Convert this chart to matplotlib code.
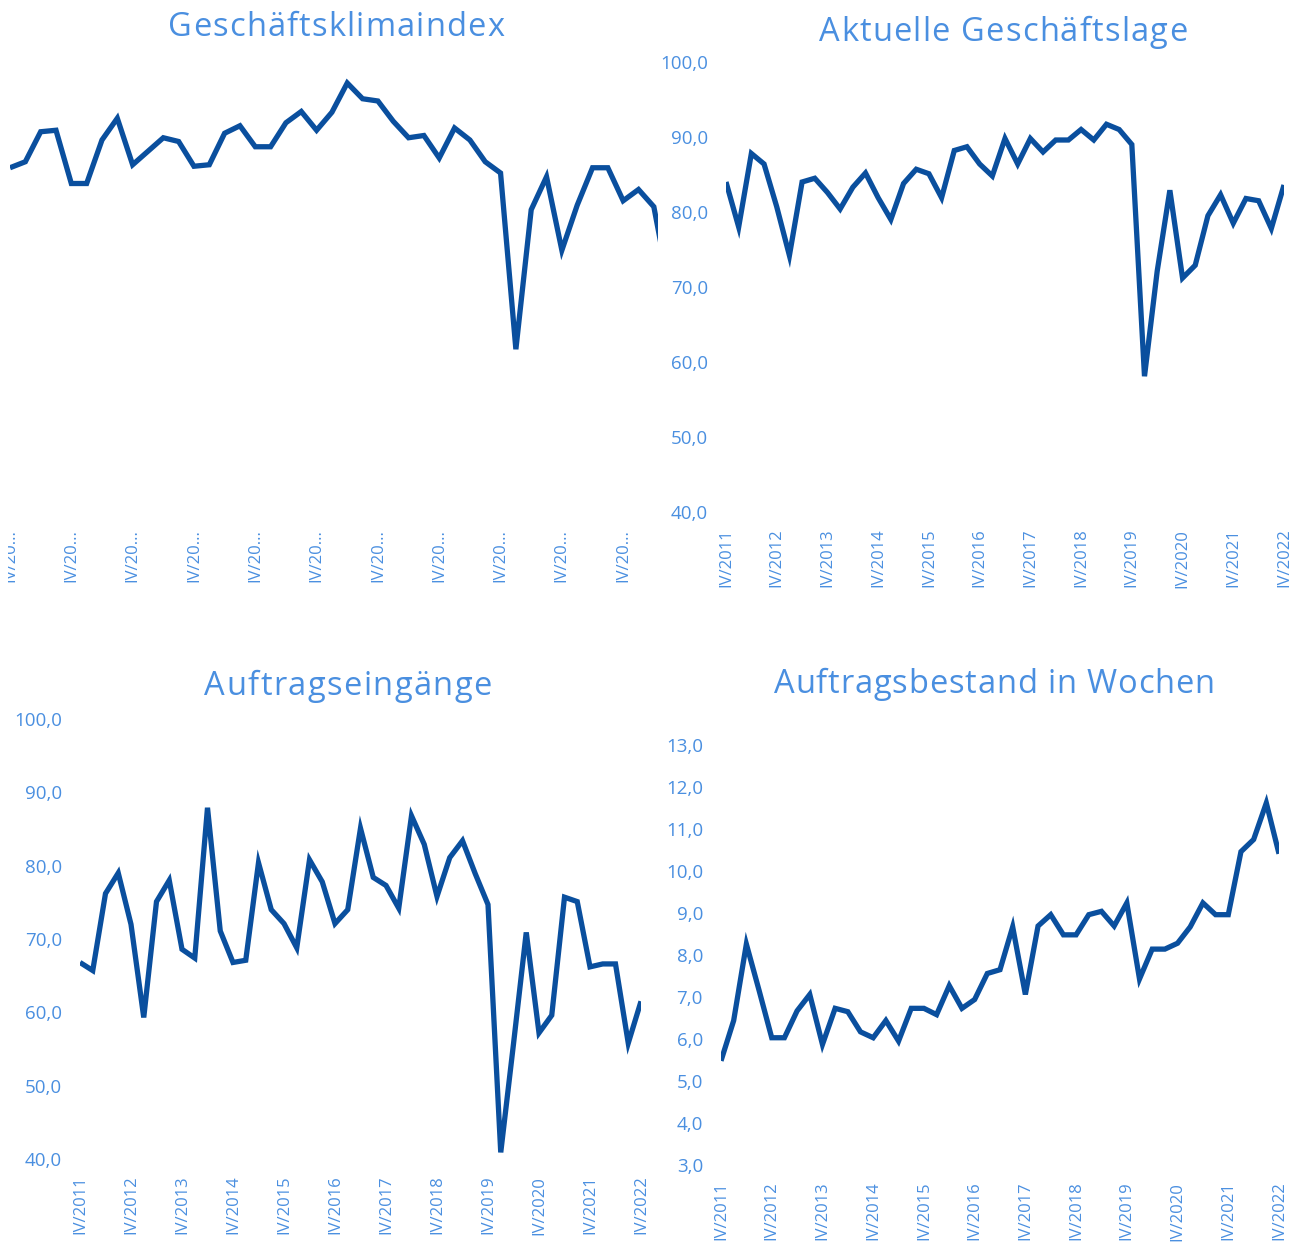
import matplotlib
matplotlib.use("Agg")
import matplotlib.pyplot as plt
from matplotlib.patches import Rectangle
from matplotlib.ticker import FuncFormatter
from matplotlib.font_manager import FontProperties

plt.rcParams['font.family'] = ['Open Sans', 'DejaVu Sans']

# quarterly values IV/2011 .. IV/2022
klima = [85.9, 86.7, 90.7, 90.9, 83.8, 83.8, 89.6, 92.5, 86.3, 88.1,
         89.9, 89.4, 86.1, 86.3, 90.5, 91.5, 88.7, 88.7, 91.9, 93.4,
         90.9, 93.3, 97.2, 95.1, 94.8, 92.1, 89.9, 90.2, 87.2, 91.2,
         89.6, 86.7, 85.2, 61.7, 80.3, 84.7, 74.9, 80.9, 85.9, 85.9,
         81.5, 83.0, 80.7, 70.0, 74.0]
lage = [84.0, 78.0, 87.8, 86.4, 80.7, 74.2, 84.0, 84.5, 82.6, 80.4,
        83.3, 85.2, 81.9, 79.0, 83.8, 85.7, 85.1, 81.9, 88.2, 88.7,
        86.4, 84.8, 89.8, 86.4, 89.8, 88.0, 89.6, 89.6, 91.0, 89.6,
        91.7, 91.0, 89.0, 58.1, 72.1, 82.9, 71.2, 72.9, 79.5, 82.3,
        78.5, 81.8, 81.5, 77.8, 83.6]
eingaenge = [66.8, 65.7, 76.2, 79.0, 72.0, 59.3, 75.1, 78.0, 68.6, 67.4,
             87.9, 71.1, 66.8, 67.1, 80.4, 74.0, 72.1, 68.8, 80.8, 77.8,
             72.1, 74.0, 85.1, 78.4, 77.3, 74.2, 86.8, 82.9, 75.8, 81.1,
             83.4, 78.9, 74.7, 40.9, 55.7, 70.9, 57.2, 59.6, 75.7, 75.1,
             66.2, 66.6, 66.6, 55.8, 61.5]
bestand = [5.48, 6.44, 8.26, 7.16, 6.03, 6.03, 6.67, 7.06, 5.87, 6.73,
           6.65, 6.17, 6.03, 6.44, 5.95, 6.73, 6.73, 6.58, 7.27, 6.73,
           6.94, 7.56, 7.65, 8.67, 7.06, 8.69, 8.96, 8.48, 8.48, 8.96,
           9.04, 8.69, 9.24, 7.43, 8.14, 8.14, 8.28, 8.67, 9.24, 8.96,
           8.96, 10.46, 10.75, 11.62, 10.41]

year_labels = ["IV/2011", "IV/2012", "IV/2013", "IV/2014", "IV/2015", "IV/2016",
               "IV/2017", "IV/2018", "IV/2019", "IV/2020", "IV/2021", "IV/2022"]
short_labels = ["IV/20..."] * 12

titles = ["Geschäftsklimaindex", "Aktuelle Geschäftslage",
          "Auftragseingänge", "Auftragsbestand in Wochen"]

W, H = 1297, 1242
LINE = '#0A4F9E'
TEXT = '#4A8FE0'

fig = plt.figure(figsize=(W / 100, H / 100), dpi=100)


def box(x0, x1, ytop, ybot):
    return [x0 / W, 1 - ybot / H, (x1 - x0) / W, (ybot - ytop) / H]


def panel(rect, values, ylim, ystep, labels, show_y=True, z=2):
    ax = fig.add_axes(rect)
    ax.set_zorder(z)
    ax.patch.set_alpha(0)
    x = list(range(len(values)))
    ax.plot(x, values, color=LINE, lw=3.8, solid_joinstyle='miter',
            solid_capstyle='butt')
    ax.set_xlim(0, len(values) - 1)
    ax.set_ylim(*ylim)
    for s in ax.spines.values():
        s.set_visible(False)
    ax.set_xticks(x[::4])
    ax.set_xticklabels(labels, rotation=90, color=TEXT, fontsize=12)
    if show_y:
        ticks = []
        v = ylim[0]
        while v <= ylim[1] + 1e-9:
            ticks.append(v)
            v += ystep
        ax.set_yticks(ticks)
        ax.yaxis.set_major_formatter(FuncFormatter(lambda v, p: f"{v:.1f}".replace('.', ',')))
    else:
        ax.set_yticks([])
    ax.tick_params(axis='x', length=0, pad=12)
    ax.tick_params(axis='y', length=0, pad=13, labelcolor=TEXT, labelsize=13.5)
    return ax


panel(box(10, 684.5, 62, 512), klima, (40, 100), 10, short_labels, show_y=False, z=0)
panel(box(726, 1284, 62, 512), lage, (40, 100), 10, year_labels)
panel(box(80, 641, 719, 1159), eingaenge, (40, 100), 10, year_labels)
panel(box(721, 1279, 745, 1165), bestand, (3, 13), 1, year_labels)

# the first panel is cut off at both sides in the source picture
fig.add_artist(Rectangle((0, 1 - 600 / H), 8 / W, 600 / H, transform=fig.transFigure,
                         facecolor='white', edgecolor='none', zorder=1))
fig.add_artist(Rectangle((658 / W, 1 - 600 / H), 62 / W, 600 / H, transform=fig.transFigure,
                         facecolor='white', edgecolor='none', zorder=1))

# titles are letter-spaced, so place them glyph by glyph
renderer = fig.canvas.get_renderer()
tprop = FontProperties(family=['Open Sans', 'DejaVu Sans'], size=23.5)


def inkw(s):
    return renderer.get_text_width_height_descent(s, tprop, ismath=False)[0]


def spaced_title(text, cx, base_y, width):
    advs = [inkw('H' + c + 'H') - inkw('HH') for c in text]
    track = (width - sum(advs) + 2) / (len(text) - 1)
    x = cx - (sum(advs) + track * (len(text) - 1)) / 2
    for c, a in zip(text, advs):
        if c != ' ':
            fig.text((x + a / 2) / W, 1 - base_y / H, c, ha='center', va='baseline',
                     color=TEXT, fontproperties=tprop, zorder=3)
        x += a + track


title_pos = [(336, 36, 334), (1003, 41, 366), (348, 695, 285), (994, 693, 439)]
for t, (tx, ty, tw) in zip(titles, title_pos):
    spaced_title(t, tx, ty, tw)

fig.savefig("out.png", dpi=100, facecolor='white')
